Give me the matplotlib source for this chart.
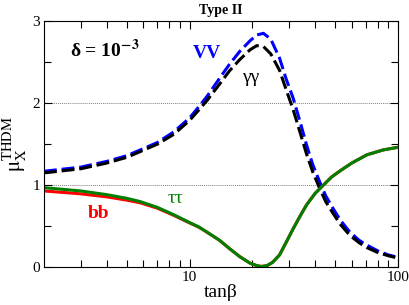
import numpy as np
import matplotlib
matplotlib.use("Agg")
import matplotlib.pyplot as plt
from matplotlib.ticker import FixedLocator, MultipleLocator, NullFormatter

plt.rcParams['font.family'] = ['Liberation Serif', 'DejaVu Serif']
plt.rcParams['mathtext.fontset'] = 'stix'

# tan(beta) samples and signal strengths
tb_vv = [2.0, 3.0, 4.0, 5.0, 5.8, 7.0, 8.4, 10.0, 11.1, 12.1, 13.9, 15.5, 17.4, 19.5,
         21.0, 22.6, 24.5, 27.0, 29.0, 31.4, 34.0, 36.4, 39.0, 42.1, 45.0, 48.7,
         53.0, 58.7, 65.0, 70.9, 80.0, 90.0, 97.0]
mu_vv = [1.17, 1.22, 1.29, 1.36, 1.43, 1.52, 1.65, 1.82, 1.96, 2.08, 2.30, 2.47, 2.63, 2.76,
         2.83, 2.85, 2.78, 2.55, 2.30, 2.06, 1.76, 1.49, 1.25, 1.04, 0.87, 0.72,
         0.57, 0.43, 0.33, 0.27, 0.20, 0.15, 0.13]
mu_gg = [1.15, 1.20, 1.27, 1.34, 1.41, 1.50, 1.62, 1.79, 1.92, 2.03, 2.23, 2.39, 2.53, 2.65,
         2.70, 2.69, 2.60, 2.40, 2.17, 1.92, 1.63, 1.38, 1.16, 0.96, 0.80, 0.66,
         0.52, 0.39, 0.30, 0.24, 0.18, 0.14, 0.12]

tb_ff = [2.0, 3.0, 4.0, 5.0, 5.8, 7.0, 8.4, 10.0, 11.1, 12.1, 13.9, 15.5, 17.4, 19.5,
         21.0, 22.1, 23.5, 25.0, 27.0, 29.0, 31.4, 34.0, 36.4, 40.0, 43.8, 48.0,
         53.1, 60.0, 70.9, 85.0, 99.0]
mu_tt = [0.97, 0.93, 0.885, 0.84, 0.80, 0.73, 0.64, 0.545, 0.49, 0.43, 0.33, 0.23, 0.13, 0.05,
         0.02, 0.01, 0.02, 0.06, 0.15, 0.30, 0.47, 0.63, 0.76, 0.90, 1.00, 1.10,
         1.18, 1.27, 1.37, 1.43, 1.46]
mu_bb = [0.93, 0.895, 0.858, 0.818, 0.785, 0.72, 0.632, 0.54, 0.487, 0.428, 0.33, 0.23, 0.13, 0.05,
         0.02, 0.01, 0.02, 0.06, 0.15, 0.30, 0.47, 0.63, 0.76, 0.90, 1.00, 1.10,
         1.18, 1.27, 1.37, 1.43, 1.46]

fig = plt.figure(figsize=(4.09, 3.05), dpi=100)
ax = fig.add_axes([0.1076, 0.1236, 0.8655, 0.8075])

dash = (4.2, 1.6)
ax.plot(tb_vv, mu_vv, color='blue', lw=2.2, dashes=dash)
ax.plot(tb_vv, mu_gg, color='black', lw=2.2, dashes=dash)
ax.plot(tb_ff, mu_bb, color='red', lw=2.2)
ax.plot(tb_ff, mu_tt, color='green', lw=2.2)

ax.axhline(1, color='gray', lw=0.7, ls=(0, (1, 1)), zorder=0)
ax.axhline(2, color='gray', lw=0.7, ls=(0, (1, 1)), zorder=0)

ax.set_xscale('log')
ax.set_xlim(2, 100)
ax.set_ylim(0, 3)
ax.xaxis.set_major_locator(FixedLocator([10, 100]))
ax.xaxis.set_minor_locator(FixedLocator([3, 4, 5, 6, 7, 8, 9, 20, 30, 40, 50, 60, 70, 80, 90]))
ax.xaxis.set_minor_formatter(NullFormatter())
ax.set_xticklabels(['10', '100'])
ax.yaxis.set_major_locator(MultipleLocator(1))
ax.yaxis.set_minor_locator(MultipleLocator(0.5))
ax.tick_params(which='both', direction='in', top=True, right=True, labelsize=11, pad=3)
ax.tick_params(which='major', length=6, width=0.8)
ax.tick_params(which='minor', length=5, width=0.8)

ax.set_title('Type II', fontsize=10, fontweight='bold', pad=5)
ax.set_xlabel('tanβ', fontsize=14, labelpad=0)
ax.set_ylabel(r'$\mathrm{\mu_X^{THDM}}$', fontsize=15, labelpad=2)

# curve labels
ax.text(2.66, 2.56, r'δ = 10$^{\mathbf{-3}}$', fontsize=14, fontweight='bold')
ax.text(10.3, 2.55, 'VV', fontsize=14, fontweight='bold', color='blue')
ax.text(17.9, 2.26, 'γγ', fontsize=14, color='black')
ax.text(7.8, 0.78, 'ττ', fontsize=14, color='green')
ax.text(3.24, 0.60, 'bb', fontsize=14, fontweight='bold', color='red')

fig.savefig('out.png', dpi=100)
